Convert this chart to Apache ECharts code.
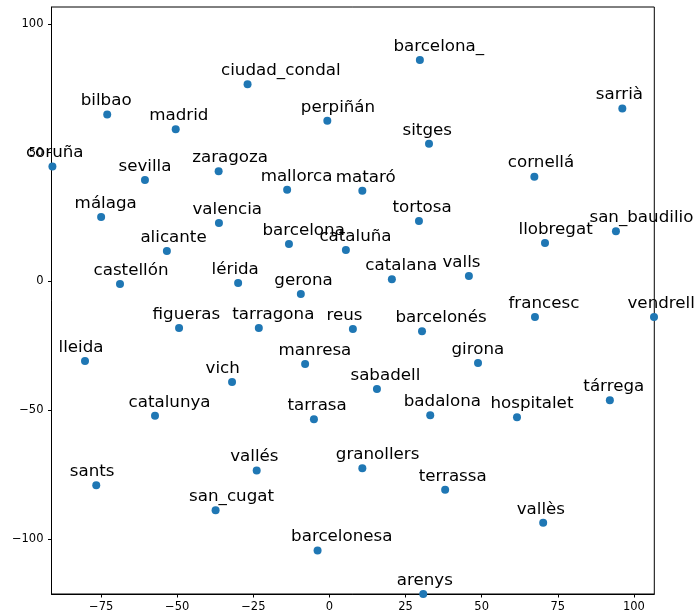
<!DOCTYPE html>
<html><head><meta charset="utf-8">
<script src="https://cdn.jsdelivr.net/npm/echarts@6/dist/echarts.min.js"></script>
<style>html,body{margin:0;padding:0;background:#fff}#c{width:695px;height:615px}</style>
</head><body><div id="c"></div>
<script>
const names = ["barcelona_","ciudad_condal","bilbao","madrid","perpiñán","sitges","sarrià","coruña","sevilla","zaragoza","mallorca","mataró","cornellá","tortosa","málaga","valencia","barcelona","cataluña","alicante","llobregat","san_baudilio","castellón","lérida","gerona","catalana","valls","vendrell","francesc","figueras","tarragona","reus","barcelonés","lleida","manresa","girona","vich","sabadell","tárrega","catalunya","tarrasa","badalona","hospitalet","vallés","granollers","terrassa","sants","san_cugat","vallès","barcelonesa","arenys"];
const xs = [29.7,-26.9,-73.0,-50.5,-0.7,32.7,96.2,-91.0,-60.6,-36.4,-13.9,10.8,67.3,29.4,-75.0,-36.3,-13.3,5.4,-53.4,70.8,94.1,-68.8,-30.0,-9.4,20.5,45.8,106.6,67.5,-49.4,-23.2,7.7,30.4,-80.3,-8.0,48.8,-32.0,15.6,92.1,-57.3,-5.1,33.1,61.6,-23.9,10.8,38.0,-76.6,-37.4,70.2,-3.9,30.8];
const ys = [86.0,76.6,64.8,59.1,62.4,53.5,67.2,44.6,39.4,42.8,35.6,35.2,40.7,23.5,25.0,22.7,14.5,12.2,11.8,14.9,19.5,-1.0,-0.6,-4.9,0.9,2.1,-13.8,-13.8,-18.1,-18.1,-18.5,-19.3,-30.9,-32.1,-31.7,-39.1,-41.8,-46.1,-52.2,-53.5,-52.0,-52.7,-73.4,-72.6,-80.9,-79.2,-88.9,-93.7,-104.5,-121.4];
const xTicks = [-75,-50,-25,0,25,50,75,100];
const yTicks = [-100,-50,0,50,100];
const xRange = [-91.3,106.7];
const yRange = [-121.4,106.6];

const fmt = v => String(v).replace('-', '\u2212');
const data = names.map((n,i)=>({name:n, value:[xs[i], ys[i]]}));
const font = 'DejaVu Sans';
const axisCommon = {
  axisLine:{show:true, onZero:false, lineStyle:{color:'#000', width:1}},
  splitLine:{show:false},
};
const chart = echarts.init(document.getElementById('c'), null, {renderer:'canvas'});
chart.setOption({
  animation:false,
  backgroundColor:'#fff',
  grid:{left:51.5, right:40.7, top:7, bottom:21, show:true, borderColor:'#000', borderWidth:1},
  xAxis:Object.assign({type:'value', min:xRange[0], max:xRange[1],
    axisLabel:{customValues:xTicks, formatter:fmt, color:'#000', fontFamily:font, fontSize:11.5, margin:7},
  }, axisCommon, {axisTick:{show:true, length:3.5, customValues:xTicks, lineStyle:{color:'#000'}}}),
  yAxis:Object.assign({type:'value', min:yRange[0], max:yRange[1],
    axisLabel:{customValues:yTicks, formatter:fmt, color:'#000', fontFamily:font, fontSize:11.5, margin:8},
  }, axisCommon, {axisTick:{show:true, length:3.5, customValues:yTicks, lineStyle:{color:'#000'}}}),
  series:[{
    type:'scatter', data:data, symbolSize:8, clip:false,
    itemStyle:{color:'#1f77b4', opacity:1},
    label:{show:true, position:[-22.5,-1], align:'left', verticalAlign:'bottom', formatter:p=>p.name, color:'#000', fontFamily:font, fontSize:16.7},
    labelLayout:{hideOverlap:false},
    emphasis:{disabled:true}
  }]
});
</script></body></html>
